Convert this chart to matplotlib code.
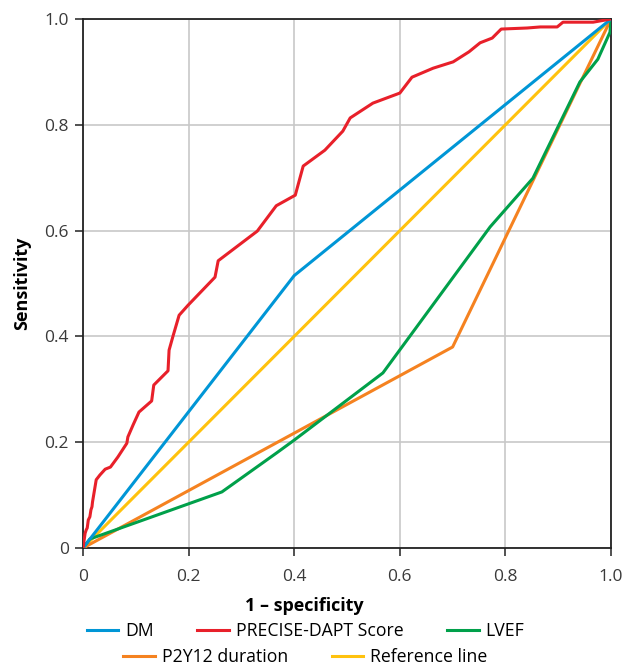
import matplotlib
matplotlib.use("Agg")
import matplotlib.pyplot as plt
from matplotlib.lines import Line2D

plt.rcParams["font.family"] = ["Open Sans", "DejaVu Sans"]

# ROC curves (1 - specificity, sensitivity)
dm_x = [0, 0.40, 1.0]
dm_y = [0, 0.515, 1.0]

precise_x = [0, 0.004, 0.006, 0.008, 0.010, 0.013, 0.015, 0.017, 0.018, 0.025,
             0.032, 0.042, 0.052, 0.066, 0.083, 0.085, 0.095, 0.106, 0.130, 0.134,
             0.138, 0.161, 0.163, 0.170, 0.182, 0.199, 0.250, 0.256, 0.330, 0.366,
             0.402, 0.417, 0.458, 0.492, 0.506, 0.549, 0.600, 0.623, 0.663, 0.701,
             0.731, 0.752, 0.775, 0.792, 0.841, 0.866, 0.898, 0.909, 0.966, 1.0]
precise_y = [0, 0.028, 0.034, 0.038, 0.053, 0.059, 0.072, 0.078, 0.087, 0.129,
             0.138, 0.149, 0.153, 0.172, 0.198, 0.210, 0.233, 0.257, 0.278, 0.308,
             0.312, 0.335, 0.374, 0.399, 0.440, 0.459, 0.512, 0.543, 0.599, 0.647,
             0.667, 0.722, 0.752, 0.788, 0.813, 0.841, 0.860, 0.890, 0.907, 0.919,
             0.938, 0.955, 0.964, 0.981, 0.983, 0.985, 0.985, 0.994, 0.994, 1.0]

lvef_x = [0, 0.013, 0.263, 0.367, 0.40, 0.568, 0.771, 0.852, 0.941, 0.975, 0.998, 1.0]
lvef_y = [0, 0.017, 0.106, 0.180, 0.204, 0.331, 0.607, 0.699, 0.881, 0.924, 0.975, 1.0]

p2y12_x = [0, 0.70, 1.0]
p2y12_y = [0, 0.38, 1.0]

ref_x = [0, 1.0]
ref_y = [0, 1.0]

ticks = [0, 0.2, 0.4, 0.6, 0.8, 1.0]
tick_labels = ["0", "0.2", "0.4", "0.6", "0.8", "1.0"]

c_dm = "#0096d6"
c_precise = "#e8202a"
c_lvef = "#00a04a"
c_p2y12 = "#f58220"
c_ref = "#ffc20e"

fig = plt.figure(figsize=(6.26, 6.67), dpi=100)
ax = fig.add_axes([0.1326, 0.1784, 0.8435, 0.7931])

lw = 2.2
ax.plot(ref_x, ref_y, color=c_ref, lw=lw, zorder=3)
ax.plot(p2y12_x, p2y12_y, color=c_p2y12, lw=lw, zorder=3)
ax.plot(lvef_x, lvef_y, color=c_lvef, lw=lw, zorder=4)
ax.plot(dm_x, dm_y, color=c_dm, lw=lw, zorder=4)
ax.plot(precise_x, precise_y, color=c_precise, lw=lw, zorder=5)

ax.set_xlim(0, 1)
ax.set_ylim(0, 1)
ax.set_xticks(ticks)
ax.set_xticklabels(tick_labels)
ax.set_yticks(ticks)
ax.set_yticklabels(tick_labels)
ax.grid(True, color="#c8c8c8", lw=1.2)
ax.set_axisbelow(True)

for s in ax.spines.values():
    s.set_color("#222222")
    s.set_linewidth(1.3)
ax.tick_params(axis="both", length=6, width=1.1, color="#222222",
               labelsize=12.5, labelcolor="#3a3a3a")
ax.tick_params(axis="x", pad=9)
ax.tick_params(axis="y", pad=4)

ax.set_xlabel("1 \u2013 specificity", fontsize=13, fontweight="bold")
ax.xaxis.set_label_coords(0.42, -0.092)
ax.set_ylabel("Sensitivity", fontsize=13, fontweight="bold", labelpad=10)

def handle(c):
    return Line2D([0], [0], color=c, lw=lw)

common = dict(frameon=False, fontsize=12.7, handlelength=1.8, handletextpad=0.4,
              columnspacing=2.45, borderpad=0, borderaxespad=0)
leg1 = fig.legend([handle(c_dm), handle(c_precise), handle(c_lvef)],
                  ["DM", "PRECISE-DAPT Score", "LVEF"], ncol=3,
                  loc="center", bbox_to_anchor=(0.488, 0.054), **common)
leg2 = fig.legend([handle(c_p2y12), handle(c_ref)],
                  ["P2Y12 duration", "Reference line"], ncol=2,
                  loc="center", bbox_to_anchor=(0.488, 0.015), **common)

fig.savefig("out.png", dpi=100)
